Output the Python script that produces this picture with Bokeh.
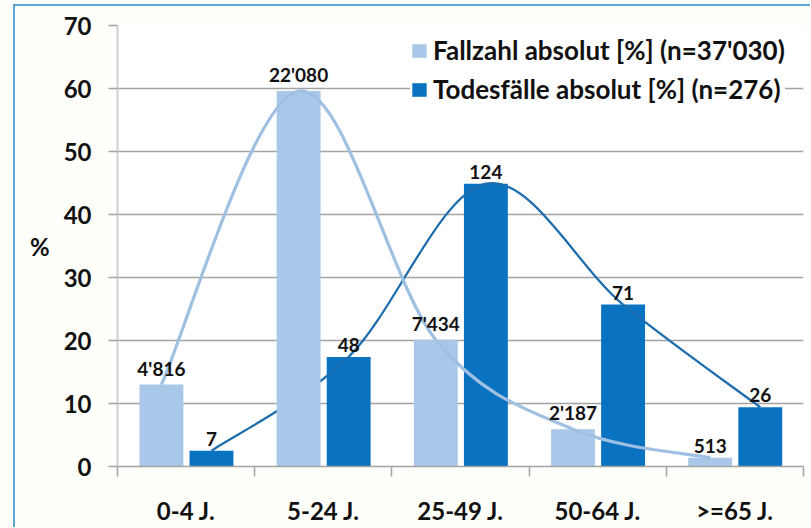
import numpy as np
from bokeh.plotting import figure
from bokeh.models import (Range1d, FixedTicker, ColumnDataSource, Legend, LegendItem,
                          InlineStyleSheet)
from bokeh.transform import dodge
from bokeh.core.properties import value
from bokeh.embed import file_html
from bokeh.resources import INLINE

# ---- data ----
cats = ["0-4 J.", "5-24 J.", "25-49 J.", "50-64 J.", ">=65 J."]
fallzahl_pct = [13.0, 59.6, 20.1, 5.9, 1.4]
todes_pct = [2.5, 17.4, 44.9, 25.7, 9.4]
fallzahl_abs = ["4'816", "22'080", "7'434", "2'187", "513"]
todes_abs = ["7", "48", "124", "71", "26"]
legend_fall = "Fallzahl absolut [%] (n=37'030)"
legend_tod = "Todesfälle absolut [%] (n=276)"
y_ticks = [0, 10, 20, 30, 40, 50, 60, 70]

FONT = "Lato"
LIGHT = "#A9C8E9"
DARK = "#0A73C1"
LIGHT_LINE = "#9FC0E3"
DARK_LINE = "#1E6EAF"
GRID = "#A3A3A3"
FRAME_BLUE = "#5DA5D5"
OFF_L, OFF_D, BAR_W = -0.18, 0.185, 0.32

n = len(cats)
centers = [i + 0.5 for i in range(n)]   # category slot centres on the x scale
src = ColumnDataSource(dict(xc=centers, cats=cats, fall=fallzahl_pct, tod=todes_pct,
                            fall_lbl=fallzahl_abs, tod_lbl=todes_abs))

W, H = 810, 527
p = figure(width=W, height=H, x_range=Range1d(0, n), y_range=Range1d(0, 70),
           output_backend="svg", toolbar_location=None,
           min_border_left=117, min_border_right=7, min_border_top=25, min_border_bottom=61)
p.outline_line_color = None
p.background_fill_color = "white"
p.border_fill_color = "#FEFEFA"

# light blue frame lines (left and top) of the original picture
p.stylesheets = [InlineStyleSheet(css=(
    ":host { position: relative; }"
    ":host::after { content: ''; position: absolute; left: 13px; top: 4px; right: 0; bottom: 0;"
    " border-left: 2px solid " + FRAME_BLUE + "; border-top: 2px solid " + FRAME_BLUE + ";"
    " pointer-events: none; z-index: 10; }"))]

# x axis: labels at category centres, separator ticks between categories
xa = p.xaxis[0]
xa.ticker = FixedTicker(ticks=centers, minor_ticks=list(range(n + 1)))
xa.major_label_overrides = {c: lab for c, lab in zip(centers, cats)}
xa.major_tick_line_color = None
xa.major_tick_out = 10
xa.major_tick_in = 0
xa.minor_tick_line_color = GRID
xa.minor_tick_line_width = 1.5
xa.minor_tick_out = 10
xa.minor_tick_in = 0
xa.axis_line_color = GRID
xa.axis_line_width = 1.5
xa.major_label_standoff = 19
xa.major_label_text_font = FONT
xa.major_label_text_font_style = "bold"
xa.major_label_text_font_size = "24px"
xa.major_label_text_color = "#111111"

# y axis
ya = p.yaxis[0]
ya.ticker = FixedTicker(ticks=y_ticks)
ya.axis_label = "%"
ya.axis_label_orientation = "horizontal"
ya.axis_label_standoff = 11
ya.axis_label_text_font = FONT
ya.axis_label_text_font_style = "bold"
ya.axis_label_text_font_size = "24px"
ya.axis_label_text_color = "#111111"
ya.major_label_text_font = FONT
ya.major_label_text_font_style = "bold"
ya.major_label_text_font_size = "24px"
ya.major_label_text_color = "#111111"
ya.major_label_standoff = 17
ya.major_tick_out = 9
ya.major_tick_in = 0
ya.major_tick_line_color = GRID
ya.major_tick_line_width = 1.5
ya.minor_tick_line_color = None
ya.axis_line_color = "#CFCFCF"
ya.axis_line_width = 2
p.ygrid.grid_line_color = GRID
p.ygrid.grid_line_width = 1.5
p.xgrid.grid_line_color = None


def smooth(xs, ys):
    """Bezier control points for a smoothed line through the given points."""
    xs = np.asarray(xs, float)
    ys = np.asarray(ys, float)
    m = len(xs)
    xp = np.concatenate([[xs[0]], xs, [xs[-1]]])
    yp = np.concatenate([[ys[0]], ys, [ys[-1]]])
    return dict(
        x0=xs[:-1], y0=ys[:-1], x1=xs[1:], y1=ys[1:],
        cx0=xs[:-1] + (xp[2:m + 1] - xp[0:m - 1]) / 6,
        cy0=ys[:-1] + (yp[2:m + 1] - yp[0:m - 1]) / 6,
        cx1=xs[1:] - (xp[3:m + 2] - xp[1:m]) / 6,
        cy1=ys[1:] - (yp[3:m + 2] - yp[1:m]) / 6,
    )


xl = [c + OFF_L for c in centers]
xd = [c + OFF_D for c in centers]

r_dark = p.vbar(x=dodge("xc", OFF_D), top="tod", width=BAR_W,
                source=src, fill_color=DARK, line_color=None)
p.bezier(source=ColumnDataSource(smooth(xd, todes_pct)), x0="x0", y0="y0", x1="x1", y1="y1",
         cx0="cx0", cy0="cy0", cx1="cx1", cy1="cy1", line_color=DARK_LINE, line_width=2.3)
r_light = p.vbar(x=dodge("xc", OFF_L), top="fall", width=BAR_W,
                 source=src, fill_color=LIGHT, line_color=None)
p.bezier(source=ColumnDataSource(smooth(xl, fallzahl_pct)), x0="x0", y0="y0", x1="x1", y1="y1",
         cx0="cx0", cy0="cy0", cx1="cx1", cy1="cy1", line_color=LIGHT_LINE, line_width=3.2)

for off, col, lbl in [(OFF_L, "fall", "fall_lbl"), (OFF_D, "tod", "tod_lbl")]:
    p.text(x=dodge("xc", off), y=col, text=lbl, source=src,
           text_align="center", text_baseline="bottom", y_offset=-5,
           text_font=value(FONT), text_font_style="bold", text_font_size="19px",
           text_color="#111111")

legend = Legend(items=[LegendItem(label=legend_fall, renderers=[r_light]),
                       LegendItem(label=legend_tod, renderers=[r_dark])],
                location=(293, 361))
legend.margin = 0
legend.padding = 6
legend.spacing = 7
legend.glyph_width = 18
legend.glyph_height = 17
legend.label_standoff = 5
legend.label_text_font = FONT
legend.label_text_font_style = "bold"
legend.label_text_font_size = "26px"
legend.label_text_color = "#111111"
legend.border_line_color = None
legend.background_fill_color = "white"
legend.background_fill_alpha = 1.0
p.add_layout(legend)

open("out.html", "w").write(file_html(p, INLINE))
